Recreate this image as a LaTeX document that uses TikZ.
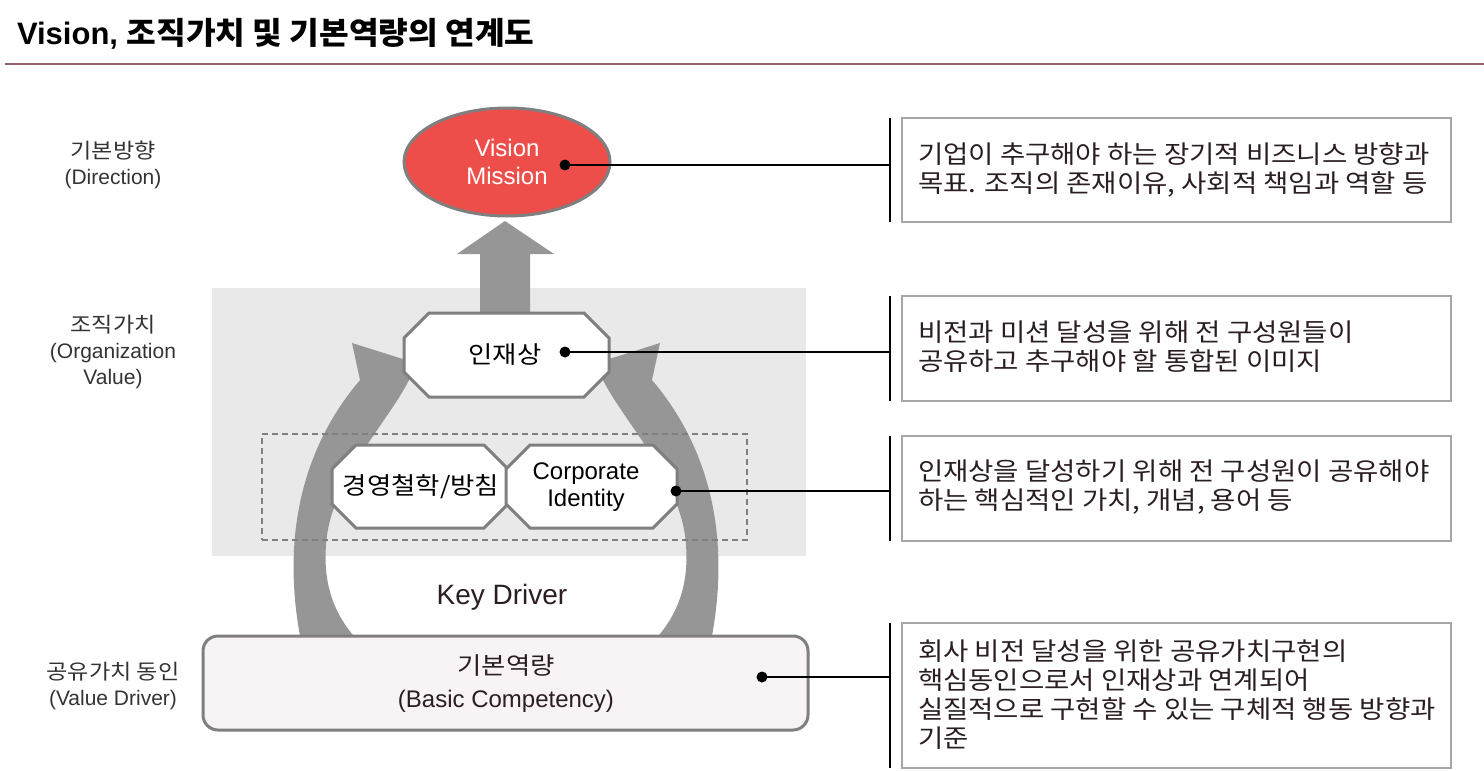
\documentclass[tikz,border=0pt]{standalone}
\usepackage{fontspec}
\setmainfont{Liberation Sans}
\newfontfamily\kr[FakeStretch=1.1]{Noto Sans CJK KR}
\newfontfamily\krt[FakeStretch=1.04]{Noto Sans CJK KR}
\usetikzlibrary{shapes.geometric}
\definecolor{visred}{HTML}{EE4E4A}
\definecolor{edgegray}{HTML}{7F7F7F}
\definecolor{arrowgray}{HTML}{969696}
\definecolor{bggray}{HTML}{E9E9E9}
\definecolor{boxgray}{HTML}{A6A6A6}
\definecolor{rulecol}{HTML}{93606A}
\definecolor{basefill}{HTML}{F8F4F5}
\definecolor{txtdark}{HTML}{2B1E21}
\newcommand\octpath[2]{%
  \draw[octo] ([xshift=#2pt]#1.north west) -- ([xshift=-#2pt]#1.north east)
    -- ([yshift=-#2pt]#1.north east) -- ([yshift=#2pt]#1.south east)
    -- ([xshift=-#2pt]#1.south east) -- ([xshift=#2pt]#1.south west)
    -- ([yshift=#2pt]#1.south west) -- ([yshift=-#2pt]#1.north west) -- cycle;}
\begin{document}
\begin{tikzpicture}[x=1pt,y=-1pt,
  frame/.style={inner sep=0pt, outer sep=0pt},
  octo/.style={draw=edgegray, line width=3pt, fill=white, line join=miter},
  conn/.style={draw=black, line width=1.6pt},
  bracket/.style={draw=black, line width=1.6pt},
  rbox/.style={frame, draw=boxgray, line width=2pt, fill=white, anchor=north west, minimum width=549pt},
  rtext/.style={frame, anchor=west, align=left, font=\kr\fontsize{25}{29}\selectfont, text=txtdark},
  lab/.style={frame, align=center, font=\fontsize{21}{26}\selectfont, text=black!80},
  dotm/.style={fill=black},
  bigarrow/.style={fill=arrowgray},
  ctext/.style={frame, align=center, font=\fontsize{24}{27}\selectfont, text=black}]
\useasboundingbox (0,0) rectangle (1484,771);

% title
\node[frame, anchor=west, font=\bfseries\fontsize{31}{34}\selectfont] (title) at (17,34) {Vision, {\krt 조직가치 및 기본역량의 연계도}};
\draw[rulecol, line width=2pt] (5,64) -- (1484,64);

% left labels
\node[lab] (l1) at (113,165) {{\kr 기본방향}\\(Direction)};
\node[lab] (l2) at (113,352) {{\kr 조직가치}\\(Organization\\Value)};
\node[lab] (l3) at (113,686) {{\kr 공유가치 동인}\\(Value Driver)};

% gray background
\node[frame, fill=bggray, minimum width=594pt, minimum height=268pt] (bg) at (509,422) {};

% curved arrows
\fill[bigarrow] (304,655) .. controls (282,560) and (292,460) .. (360,380)
  -- (352,343) -- (425,366) -- (410,378)
  .. controls (390,420) and (330,480) .. (326,545)
  .. controls (322,600) and (345,630) .. (372,655) -- cycle;
\fill[bigarrow] (708,655) .. controls (730,560) and (720,460) .. (652,380)
  -- (660,343) -- (587,366) -- (602,378)
  .. controls (622,420) and (682,480) .. (686,545)
  .. controls (690,600) and (667,630) .. (640,655) -- cycle;
% up arrow
\fill[bigarrow] (480,320) -- (480,254) -- (457,254) -- (505,221) -- (554,254) -- (530,254) -- (530,320) -- cycle;

% dashed group
\node[frame, draw=edgegray, line width=1.5pt, dash pattern=on 6pt off 4pt, minimum width=485pt, minimum height=106pt] (grp) at (504.5,487) {};

% vision ellipse
\node[ellipse, inner sep=0pt, minimum width=206pt, minimum height=108pt, fill=visred, draw=edgegray, line width=3pt,
  align=center, text=white, font=\fontsize{24}{28}\selectfont] (vm) at (507,162) {Vision\\Mission};

% octagons
\node[frame, minimum width=205pt, minimum height=84pt] (irb) at (506.5,355) {};
\octpath{irb}{25}
\node[ctext, font=\kr\fontsize{24}{27}\selectfont] (ir) at (505,355) {인재상};
\node[frame, minimum width=176pt, minimum height=83pt] (kb) at (420,486.5) {};
\octpath{kb}{24}
\node[ctext, font=\kr\fontsize{24}{27}\selectfont] (kp) at (421,487) {경영철학/방침};
\node[frame, minimum width=171pt, minimum height=83pt] (cb) at (591.5,486.5) {};
\octpath{cb}{24}
\node[ctext] (ci) at (586,487) {Corporate\\Identity};

% base box
\node[frame, rounded corners=15pt, draw=edgegray, line width=3pt, fill=basefill, minimum width=605pt, minimum height=94pt] (base) at (505.5,683) {};
\node[frame, align=center, text=txtdark, font=\fontsize{24}{33}\selectfont] (bt) at (506,684) {{\kr 기본역량}\\(Basic Competency)};
\node[frame, text=txtdark, font=\fontsize{28}{32}\selectfont] (kd) at (502,597) {Key Driver};

% right boxes
\node[rbox, minimum height=104pt] (r1) at (902,118) {};
\node[rtext] (t1) at (918,170) {기업이 추구해야 하는 장기적 비즈니스 방향과\\목표. 조직의 존재이유, 사회적 책임과 역할 등};
\node[rbox, minimum height=105pt] (r2) at (902,296) {};
\node[rtext] (t2) at (918,347) {비전과 미션 달성을 위해 전 구성원들이\\공유하고 추구해야 할 통합된 이미지};
\node[rbox, minimum height=105pt] (r3) at (902,436) {};
\node[rtext] (t3) at (918,487) {인재상을 달성하기 위해 전 구성원이 공유해야\\하는 핵심적인 가치, 개념, 용어 등};
\node[rbox, minimum height=145pt] (r4) at (902,623) {};
\node[rtext] (t4) at (918,695) {회사 비전 달성을 위한 공유가치구현의\\핵심동인으로서 인재상과 연계되어\\실질적으로 구현할 수 있는 구체적 행동 방향과\\기준};

% brackets
\coordinate (k1t) at (890,118); \coordinate (k1b) at (890,222);
\coordinate (k2t) at (890,296); \coordinate (k2b) at (890,401);
\coordinate (k3t) at (890,436); \coordinate (k3b) at (890,541);
\coordinate (k4t) at (890,623); \coordinate (k4b) at (890,768);
\draw[bracket] (k1t) -- (k1b);
\draw[bracket] (k2t) -- (k2b);
\draw[bracket] (k3t) -- (k3b);
\draw[bracket] (k4t) -- (k4b);

% connectors
\coordinate (d1) at (565,165); \coordinate (k1) at (890,165);
\coordinate (d2) at (565,352); \coordinate (k2) at (890,352);
\coordinate (d3) at (676,491); \coordinate (k3) at (890,491);
\coordinate (d4) at (762,677); \coordinate (k4) at (890,677);
\draw[conn] (d1) -- (k1);
\draw[conn] (d2) -- (k2);
\draw[conn] (d3) -- (k3);
\draw[conn] (d4) -- (k4);
\fill[dotm] (d1) circle (5.5pt);
\fill[dotm] (d2) circle (5.5pt);
\fill[dotm] (d3) circle (5.5pt);
\fill[dotm] (d4) circle (5.5pt);
\end{tikzpicture}
\end{document}
